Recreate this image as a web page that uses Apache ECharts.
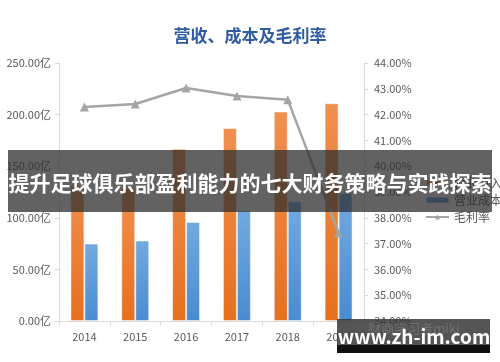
<!DOCTYPE html>
<html>
<head>
<meta charset="utf-8">
<script src="https://cdn.jsdelivr.net/npm/echarts@6/dist/echarts.min.js"></script>
<style>html,body{margin:0;padding:0;background:#fff;}#c{width:500px;height:362px;}</style>
</head>
<body>
<div id="c"></div>
<script>
const years = ['2014','2015','2016','2017','2018','2019'];
const revenue = [131, 129, 167, 187, 203, 211];
const cost = [75, 78, 96, 107, 116, 124];
const margin = [42.29, 42.41, 43.03, 42.72, 42.58, 37.41];
const leftTicks = ['0.00亿','50.00亿','100.00亿','150.00亿','200.00亿','250.00亿'];
const titleText = '营收、成本及毛利率';
const bannerText = '提升足球俱乐部盈利能力的七大财务策略与实践探索';
const markText = 'www.zh-im.com';

const chart = echarts.init(document.getElementById('c'));
const font = '"Microsoft YaHei","Noto Sans CJK SC",sans-serif';
const grad = (top, bot) => new echarts.graphic.LinearGradient(0,0,0,1,[{offset:0,color:top},{offset:1,color:bot}]);
chart.setOption({
  animation: false,
  title: {text: titleText, left: 'center', top: 22, textStyle: {color:'#2F5CA3', fontSize: 17, fontWeight:'bold', fontFamily: font}},
  legend: {
    orient: 'vertical', left: 420, top: 172, itemGap: 5, itemWidth: 23, itemHeight: 6,
    textStyle: {color:'#595959', fontSize: 12, fontFamily: font},
    data: [
      {name:'营业收入', icon:'rect', itemStyle:{color:'#ED7D31'}},
      {name:'营业成本', icon:'rect', itemStyle:{color:'#5B9BD5'}},
      {name:'毛利率'}
    ]
  },
  grid: {left: 59, right: 136, top: 63, bottom: 41},
  xAxis: {
    type: 'category', data: years,
    axisLine: {lineStyle:{color:'#D9D9D9'}},
    axisTick: {show:true, lineStyle:{color:'#D9D9D9'}, length: 4},
    axisLabel: {color:'#595959', fontSize: 11, margin: 10, fontFamily: font}
  },
  yAxis: [
    {type:'value', min:0, max:250, interval:50, position:'left',
     axisLine:{show:true, lineStyle:{color:'#D9D9D9'}},
     axisTick:{show:true, lineStyle:{color:'#D9D9D9'}, length:4},
     splitLine:{show:false},
     axisLabel:{color:'#595959', fontSize: 11, margin: 8, fontFamily: font, formatter:(v)=>leftTicks[v/50]}},
    {type:'value', min:34, max:44, interval:1, position:'right',
     axisLine:{show:true, lineStyle:{color:'#D9D9D9'}},
     axisTick:{show:true, lineStyle:{color:'#D9D9D9'}, length:4},
     splitLine:{show:false},
     axisLabel:{color:'#595959', fontSize: 11, margin: 10, fontFamily: font, formatter:(v)=>v.toFixed(2)+'%'}}
  ],
  series: [
    {name:'营业收入', type:'bar', data: revenue, barGap: '0%', barCategoryGap: '45%',
     itemStyle:{color: grad('#F0904F','#E6701F'), borderColor:'rgba(255,255,255,0.5)', borderWidth:1}},
    {name:'营业成本', type:'bar', data: cost, barGap: '0%', barCategoryGap: '45%',
     itemStyle:{color: grad('#72AADF','#4A8BD0'), borderColor:'rgba(255,255,255,0.5)', borderWidth:1}},
    {name:'毛利率', type:'line', yAxisIndex:1, data: margin, symbol:'triangle', symbolSize: 9,
     lineStyle:{color:'#A5A5A5', width:2.5}, itemStyle:{color:'#A5A5A5'}, z: 5}
  ],
  graphic: [
    {type:'rect', z: 100, shape:{x:8, y:150, width:484, height:62}, style:{fill:'rgba(45,45,45,0.75)'}},
    {type:'text', z: 101, x: 250, y: 183, style:{text: bannerText, fill:'#fff', fontSize: 21, fontWeight:'bold', fontFamily: font, align:'center', verticalAlign:'middle'}},
    {type:'rect', z: 100, shape:{x:337, y:319, width:153, height:27}, style:{fill:'rgba(55,55,55,0.85)'}},
    {type:'rect', z: 100, shape:{x:337, y:345, width:153, height:8}, style:{fill:'#111'}},
    {type:'text', z: 101, x: 414, y: 328, style:{text:'财商学习者miki', fill:'rgba(160,160,160,0.35)', fontSize: 13, fontFamily: font, align:'center', verticalAlign:'middle'}},
    {type:'text', z: 102, x: 414, y: 337, style:{text: markText, fill:'#fff', fontSize: 19, fontWeight:'bold', fontFamily: font, align:'center', verticalAlign:'middle'}}
  ]
});
</script>
</body>
</html>
